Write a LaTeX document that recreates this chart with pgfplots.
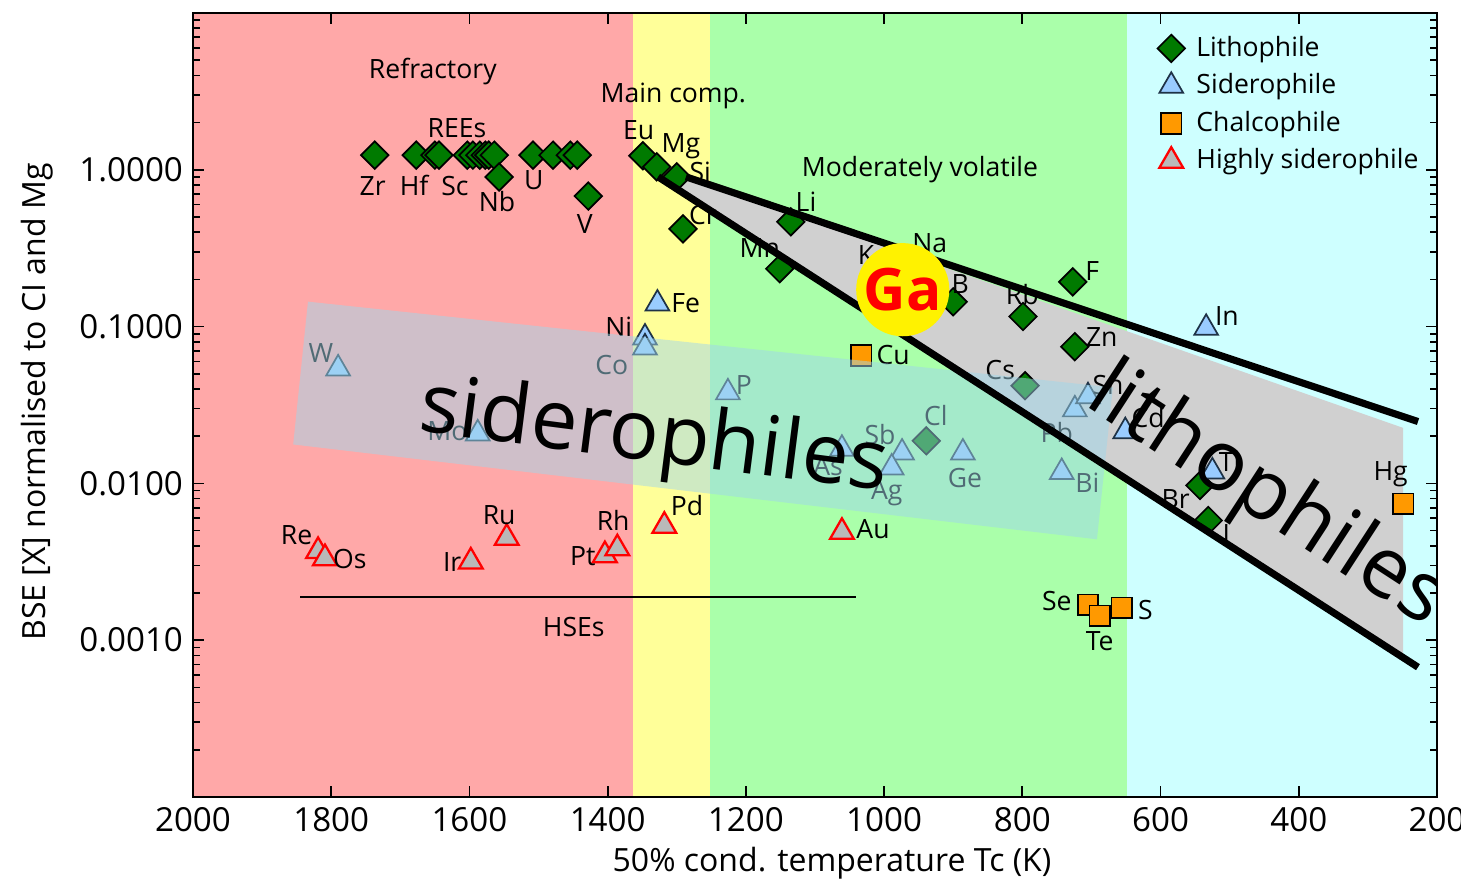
\documentclass[border=0pt]{standalone}
\usepackage{fontspec}
\setmainfont{Open Sans}
\usepackage{pgfplots}
\pgfplotsset{compat=1.18}
\definecolor{bgred}{RGB}{255,168,168}
\definecolor{bgyellow}{RGB}{255,255,153}
\definecolor{bggreen}{RGB}{170,255,170}
\definecolor{bgcyan}{RGB}{206,255,255}
\definecolor{litho}{RGB}{0,122,0}
\definecolor{sidero}{RGB}{153,204,255}
\definecolor{siderodraw}{RGB}{30,50,70}
\definecolor{chalco}{RGB}{255,153,0}
\definecolor{hsegray}{RGB}{185,185,185}
\definecolor{wedge}{RGB}{208,208,208}
\definecolor{band}{RGB}{160,215,235}
\tikzset{lab/.style={font=\fontsize{9.3}{11}\selectfont, inner sep=0pt, anchor=center}}
\newcommand{\lab}[3]{\node[lab] at (axis cs:#1,#2) {#3};}
\begin{document}
\begin{tikzpicture}
\useasboundingbox (-67.55pt,-29.75pt) rectangle (443.8pt,278.95pt);
\clip (-67.55pt,-29.75pt) rectangle (443.8pt,278.95pt);
\begin{axis}[
  scale only axis, width=435.4pt, height=274.4pt,
  x dir=reverse, xmin=200, xmax=2000,
  ymode=log, ymin=1e-4, ymax=10,
  clip marker paths=true,
  xtick={200,400,...,2000},
  ytick={0.001,0.01,0.1,1},
  yticklabels={0.0010,0.0100,0.1000,1.0000},
  minor ytick={2e-4,3e-4,4e-4,5e-4,6e-4,7e-4,8e-4,9e-4,0.002,0.003,0.004,0.005,0.006,0.007,0.008,0.009,0.02,0.03,0.04,0.05,0.06,0.07,0.08,0.09,0.2,0.3,0.4,0.5,0.6,0.7,0.8,0.9,2,3,4,5,6,7,8,9},
  tick align=inside, major tick length=4pt, minor tick length=2.3pt,
  every tick/.style={black, line width=0.6pt},
  axis line style={line width=0.7pt},
  axis on top,
  /pgf/number format/assume math mode=true,
  /pgf/number format/1000 sep={},
  tick label style={font=\fontsize{11.6}{14}\selectfont},
  xlabel={50\% cond. temperature Tc (K)},
  ylabel={BSE [X] normalised to CI and Mg},
  label style={font=\fontsize{11.2}{13}\selectfont},
  xlabel style={at={(axis description cs:0.5137,0)}, anchor=center, yshift=-23pt},
  ylabel style={at={(axis description cs:0,0.5038)}, anchor=center, yshift=54.6pt},
  legend style={draw=none, fill=none, at={(rel axis cs:0.768,0.9857)}, anchor=north west,
    font=\fontsize{9.3}{11}\selectfont, row sep=0.55pt, column sep=2pt, cells={anchor=west}},
]
% background bands
\addplot[draw=none, fill=bgred, forget plot] coordinates {(2000,1e-4)(1363,1e-4)(1363,10)(2000,10)} --cycle;
\addplot[draw=none, fill=bgyellow, forget plot] coordinates {(1363,1e-4)(1252,1e-4)(1252,10)(1363,10)} --cycle;
\addplot[draw=none, fill=bggreen, forget plot] coordinates {(1252,1e-4)(649,1e-4)(649,10)(1252,10)} --cycle;
\addplot[draw=none, fill=bgcyan, forget plot] coordinates {(649,1e-4)(200,1e-4)(200,10)(649,10)} --cycle;
% lithophile wedge
\addplot[draw=none, fill=wedge, forget plot] coordinates {(1327,0.902)(1286.7,0.902)(249,0.0226)(249,0.00079)} --cycle;
% HSE line
\addplot[black, line width=0.7pt, forget plot] coordinates {(1845,0.00188)(1040,0.00188)};
% Lithophile
\addplot[only marks, mark=square*, mark size=3.4pt, mark options={rotate=45, fill=litho, draw=black, line width=0.6pt}]
coordinates {
(1737,1.24)(1677,1.24)(1650,1.24)(1644,1.24)(1603,1.24)(1595,1.24)(1585,1.24)(1577,1.24)(1572,1.24)(1564,1.24)
(1508,1.24)(1479,1.24)(1454,1.24)(1444,1.24)(1557,0.90)(1428,0.68)
(1349,1.23)(1329,1.045)(1300,0.902)(1291,0.42)(1135,0.466)(1151,0.234)(1006,0.21)(955,0.26)
(900,0.144)(799,0.116)(727,0.193)(724,0.0745)(796,0.042)(939,0.0187)(543,0.0097)(531,0.0058)
};
\addlegendentry{Lithophile}
% Siderophile
\addplot[only marks, mark=triangle*, mark size=4.8pt, mark options={fill=sidero, draw=siderodraw, line width=0.6pt}]
coordinates {
(1328,0.14)(1346,0.085)(1346,0.0735)(1790,0.054)(1588,0.0208)(1226,0.038)(1061,0.0166)(974,0.0157)
(989,0.0126)(886,0.0157)(743,0.0118)(724,0.0296)(705,0.0359)(651,0.0215)(534,0.098)(525,0.0119)
};
\addlegendentry{Siderophile}
% Chalcophile
\addplot[only marks, mark=square*, mark size=3.6pt, mark options={fill=chalco, draw=black, line width=0.6pt}]
coordinates {(1033,0.0654)(249,0.0074)(705,0.00168)(688,0.00143)(656,0.00161)};
\addlegendentry{Chalcophile}
% Highly siderophile
\addplot[only marks, mark=triangle*, mark size=4.8pt, mark options={fill=hsegray, draw=red, line width=0.8pt}]
coordinates {(1819,0.0037)(1809,0.00333)(1598,0.00317)(1546,0.00449)(1404,0.00348)(1386,0.00385)(1318,0.00536)(1061,0.0049)};
\addlegendentry{Highly siderophile}
% labels: lithophile
\lab{1740}{0.791}{Zr}\lab{1680}{0.791}{Hf}\lab{1621}{0.791}{Sc}\lab{1560}{0.625}{Nb}
\lab{1507}{0.864}{U}\lab{1433}{0.453}{V}\lab{1355}{1.80}{Eu}\lab{1294}{1.42}{Mg}
\lab{1266}{0.97}{Si}\lab{1262}{0.517}{Cr}\lab{1113}{0.625}{Li}\lab{1180}{0.319}{Mn}
\lab{1026}{0.288}{K}\lab{934}{0.343}{Na}\lab{890}{0.188}{B}\lab{800}{0.160}{Rb}
\lab{699}{0.227}{F}\lab{685}{0.0864}{Zn}\lab{832}{0.0532}{Cs}\lab{925}{0.0271}{Cl}
\lab{578}{0.0079}{Br}\lab{505}{0.00473}{I}
% siderophile
\lab{1287}{0.142}{Fe}\lab{1384}{0.1}{Ni}\lab{1394}{0.0573}{Co}\lab{1815}{0.0683}{W}
\lab{1632}{0.0214}{Mo}\lab{1203}{0.0427}{P}\lab{1081}{0.0128}{As}\lab{1006}{0.0205}{Sb}
\lab{996}{0.00863}{Ag}\lab{883}{0.0108}{Ge}\lab{706}{0.0101}{Bi}\lab{750}{0.0211}{Pb}
\lab{676}{0.0427}{Sn}\lab{618}{0.0263}{Cd}\lab{504}{0.116}{In}\lab{500}{0.0138}{Tl}
% chalcophile
\lab{987}{0.0663}{Cu}\lab{267}{0.0114}{Hg}\lab{750}{0.00177}{Se}\lab{688}{0.000986}{Te}\lab{622}{0.00155}{S}
% HSE
\lab{1850}{0.00467}{Re}\lab{1773}{0.00328}{Os}\lab{1625}{0.00317}{Ir}\lab{1557}{0.00625}{Ru}
\lab{1436}{0.00343}{Pt}\lab{1392}{0.00581}{Rh}\lab{1285}{0.00724}{Pd}\lab{1016}{0.00509}{Au}
% region labels
\lab{1653}{4.21}{Refractory}\lab{1305}{2.96}{Main comp.}\lab{1618}{1.85}{REEs}
\lab{948}{1.0}{Moderately volatile}\lab{1449}{0.00121}{HSEs}
% siderophile band
\addplot[draw=none, fill=band, fill opacity=0.5, forget plot] coordinates {(1833.6,0.1443)(669,0.0409)(692,0.0044)(1855,0.01772)} --cycle;
% wedge lines
\addplot[black, line width=2.5pt, forget plot] coordinates {(1286.7,0.902)(227.5,0.0248)};
\addplot[black, line width=2.5pt, forget plot] coordinates {(1327,0.902)(227.5,0.000673)};
% big texts
\node[font=\fontsize{29.1}{32}\selectfont, rotate=-7.3, inner sep=0pt] at (axis cs:1333,0.01906) {siderophiles};
\node[font=\fontsize{29.5}{32}\selectfont, rotate=-33, inner sep=0pt] at (axis cs:447,0.0081) {lithophiles};
% Ga
\node[circle, fill=yellow, inner sep=0pt, minimum size=32.6pt, text=red, font=\bfseries\fontsize{20.5}{24}\selectfont] at (axis cs:973,0.172) {Ga};
\end{axis}
\end{tikzpicture}
\end{document}
